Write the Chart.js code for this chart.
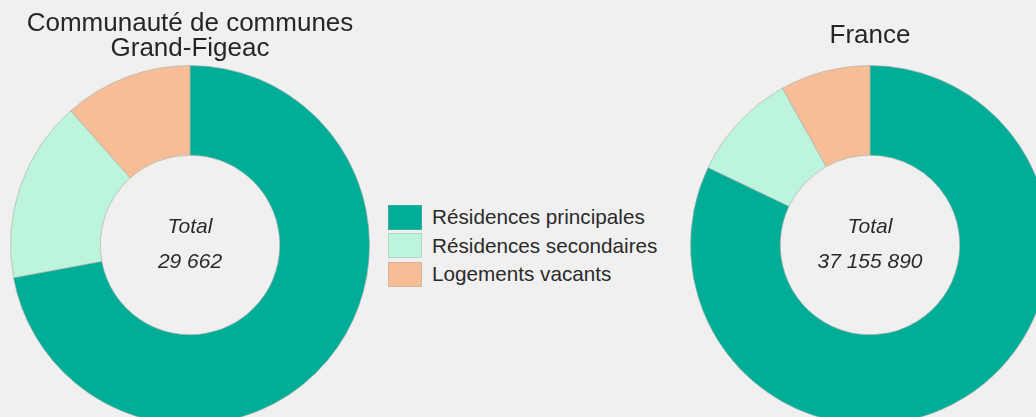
<!DOCTYPE html>
<html>
<head>
<meta charset="utf-8">
<script src="https://cdn.jsdelivr.net/npm/chart.js@4/dist/chart.umd.min.js"></script>
<style>
  html, body { margin: 0; padding: 0; background: #f0f0f0; overflow: hidden; width: 1036px; height: 417px; }
  body { position: relative; font-family: "Liberation Sans", Arial, sans-serif; }
  canvas { position: absolute; top: 0; }
  #legend { position: absolute; left: 388px; top: 203px; }
  .item { display: flex; align-items: center; height: 28.5px; }
  .box { width: 34px; height: 25px; margin-right: 10px; box-sizing: border-box; border: 1px solid rgba(160,160,160,0.35); }
  .label { font-size: 20.7px; color: #2a2a2a; }
</style>
</head>
<body>
<canvas id="leftChart" width="360" height="425" style="left:10px"></canvas>
<div id="legend"></div>
<canvas id="rightChart" width="360" height="425" style="left:690px"></canvas>

<script>
// categories and colours
const categories = ["Résidences principales", "Résidences secondaires", "Logements vacants"];
const colors = ["#00ae98", "#bdf5dc", "#f6bd96"];

// values
const grandFigeacValues = [21380, 4850, 3432];
const franceValues = [30505000, 3640000, 3010890];

const titles = [["Communauté de communes", "Grand-Figeac"], "France"];

const fmt = (n) => String(n).replace(/\B(?=(\d{3})+(?!\d))/g, " ");

// draws "Total" and the sum in the hole
const centerText = {
  id: "centerText",
  afterDraw(chart) {
    const arc = chart.getDatasetMeta(0).data[0];
    if (!arc) return;
    const total = chart.data.datasets[0].data.reduce((a, b) => a + b, 0);
    const ctx = chart.ctx;
    ctx.save();
    ctx.fillStyle = "#2a2a2a";
    ctx.font = "italic 21px 'Liberation Sans', Arial, sans-serif";
    ctx.textAlign = "center";
    ctx.textBaseline = "middle";
    ctx.fillText("Total", arc.x, arc.y - 18);
    ctx.fillText(fmt(total), arc.x, arc.y + 17);
    ctx.restore();
  }
};

function makeDoughnut(id, values, title, padding) {
  return new Chart(document.getElementById(id), {
    type: "doughnut",
    data: {
      labels: categories,
      datasets: [{
        data: values,
        backgroundColor: colors,
        borderColor: "rgba(170,170,170,0.6)",
        borderWidth: 1
      }]
    },
    options: {
      responsive: false,
      animation: false,
      cutout: "50%",
      layout: { padding: 0 },
      plugins: {
        legend: { display: false },
        tooltip: { enabled: false },
        title: {
          display: true,
          text: title,
          color: "#262626",
          font: { size: 26, family: "'Liberation Sans', Arial, sans-serif", weight: "normal", lineHeight: 0.96 },
          padding: padding
        }
      }
    },
    plugins: [centerText]
  });
}

makeDoughnut("leftChart", grandFigeacValues, titles[0], { top: 11, bottom: 4 });
makeDoughnut("rightChart", franceValues, titles[1], { top: 23, bottom: 17 });

// html legend built from the same arrays
const legend = document.getElementById("legend");
categories.forEach((c, i) => {
  const item = document.createElement("div");
  item.className = "item";
  item.innerHTML = '<span class="box" style="background:' + colors[i] + '"></span><span class="label">' + c + "</span>";
  legend.appendChild(item);
});
</script>
</body>
</html>
